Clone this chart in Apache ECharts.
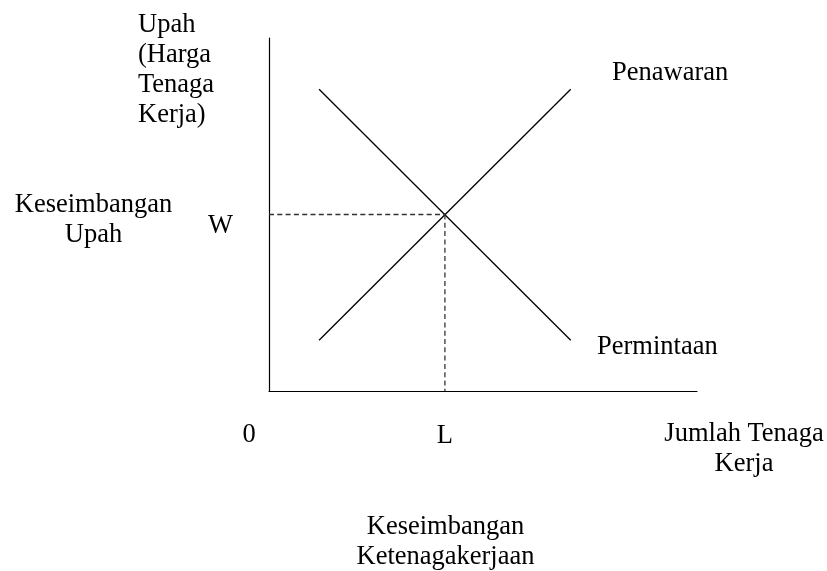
<!DOCTYPE html>
<html>
<head>
<meta charset="utf-8">
<script src="https://cdn.jsdelivr.net/npm/echarts@6/dist/echarts.min.js"></script>
<style>
html,body{margin:0;padding:0;background:#fff;}
#chart{width:827px;height:571px;}
</style>
</head>
<body>
<div id="chart"></div>
<script>
// Data (abstract units, axes 0..100)
const supplyCurve = [[11.7, 14.4], [70.5, 85.5]];   // Penawaran
const demandCurve = [[11.7, 85.5], [70.5, 14.4]];   // Permintaan
const equilibrium = [41.1, 50];                      // (L, W)
const xTickValues = [41.1];
const xTickLabels = ['L'];
const yTickValues = [50];
const yTickLabels = ['W'];
const originLabel = '0';
const yAxisTitle = 'Upah\n(Harga\nTenaga\nKerja)';
const xAxisTitle = 'Jumlah Tenaga\nKerja';
const wageNote = 'Keseimbangan\nUpah';
const chartTitle = 'Keseimbangan\nKetenagakerjaan';
const supplyName = 'Penawaran';
const demandName = 'Permintaan';

const FONT = '"Liberation Serif","Times New Roman",serif';
const FS = 26.5;
const txt = (extra) => Object.assign({fill:'#000', font: FS + 'px ' + FONT, lineHeight:30}, extra);

const chart = echarts.init(document.getElementById('chart'));
chart.setOption({
  animation:false,
  backgroundColor:'#fff',
  grid:{left:269, top:38, right:130, bottom:180},
  xAxis:{
    type:'value', min:0, max:100,
    axisLine:{show:true, lineStyle:{color:'#000', width:1.2}},
    axisTick:{show:false},
    splitLine:{show:false},
    axisLabel:{
      customValues:xTickValues,
      formatter:(v)=>{const i=xTickValues.indexOf(v);return i>=0?xTickLabels[i]:'';},
      color:'#000', fontFamily:FONT, fontSize:FS, lineHeight:30,
      margin:30, verticalAlign:'top'
    }
  },
  yAxis:{
    type:'value', min:0, max:100,
    axisLine:{show:true, lineStyle:{color:'#000', width:1.2}},
    axisTick:{show:false},
    splitLine:{show:false},
    axisLabel:{
      customValues:yTickValues,
      formatter:(v)=>{const i=yTickValues.indexOf(v);return i>=0?yTickLabels[i]:'';},
      color:'#000', fontFamily:FONT, fontSize:FS, lineHeight:23,
      margin:36, verticalAlign:'top'
    }
  },
  series:[
    {name:supplyName, type:'line', data:supplyCurve, showSymbol:false, silent:true,
     lineStyle:{color:'#000', width:1.3}},
    {name:demandName, type:'line', data:demandCurve, showSymbol:false, silent:true,
     lineStyle:{color:'#000', width:1.3}},
    {name:'W', type:'line', data:[[0, equilibrium[1]], equilibrium], showSymbol:false, silent:true,
     lineStyle:{color:'#333', width:1.3, type:[5,3.3]}},
    {name:'L', type:'line', data:[equilibrium, [equilibrium[0], 0]], showSymbol:false, silent:true,
     lineStyle:{color:'#333', width:1.3, type:[5,3.3]}}
  ],
  graphic:[
    {type:'text', left:138, top:10, style:txt({text:yAxisTitle, textAlign:'left'})},
    {type:'text', x:93.5, y:190, style:txt({text:wageNote, textAlign:'center', textVerticalAlign:'top'})},
    {type:'text', x:612, y:73, style:txt({text:supplyName, textAlign:'left', textVerticalAlign:'middle'})},
    {type:'text', x:597, y:347, style:txt({text:demandName, textAlign:'left', textVerticalAlign:'middle'})},
    {type:'text', x:249, y:435, style:txt({text:originLabel, textAlign:'center', textVerticalAlign:'middle'})},
    {type:'text', x:744, y:419, style:txt({text:xAxisTitle, textAlign:'center', textVerticalAlign:'top'})},
    {type:'text', x:445.5, y:512, style:txt({text:chartTitle, textAlign:'center', textVerticalAlign:'top'})}
  ]
});
</script>
</body>
</html>
